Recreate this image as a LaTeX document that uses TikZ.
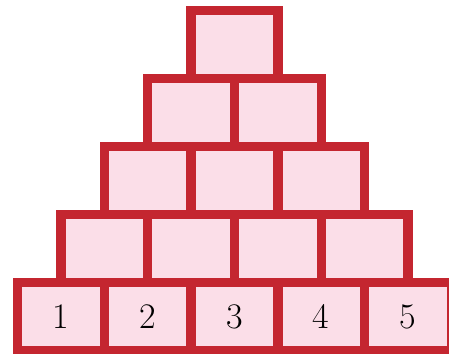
\documentclass[tikz,border=0pt]{standalone}
\usetikzlibrary{positioning}

\definecolor{brickred}{RGB}{196,38,48}
\definecolor{brickpink}{RGB}{251,222,232}

\tikzset{
	brick/.style={draw=brickred, fill=brickpink, line width=9.4pt, inner sep=0pt, outer sep=0pt,
		minimum width=86.8pt, minimum height=68pt, font=\fontsize{36}{40}\selectfont},
}

\begin{document}
\begin{tikzpicture}[x=1pt, y=1pt, baseline=(current bounding box.center)]
	\useasboundingbox (0,0) rectangle (449,353);
	% 1. 最下面一层，带编号 1--5
	\node [brick] (b1) at (60.8,36.3) {1};
	\node [brick, right=0pt of b1] (b2) {2};
	\node [brick, right=0pt of b2] (b3) {3};
	\node [brick, right=0pt of b3] (b4) {4};
	\node [brick, right=0pt of b4] (b5) {5};
	
	% 2. 第二层：放在下面两块的接缝上
	\node [brick, anchor=south] (c1) at (b1.north east) {};
	\node [brick, right=0pt of c1] (c2) {};
	\node [brick, right=0pt of c2] (c3) {};
	\node [brick, right=0pt of c3] (c4) {};
	
	% 3. 第三层
	\node [brick, anchor=south] (d1) at (c1.north east) {};
	\node [brick, right=0pt of d1] (d2) {};
	\node [brick, right=0pt of d2] (d3) {};
	
	% 4. 第四层
	\node [brick, anchor=south] (e1) at (d1.north east) {};
	\node [brick, right=0pt of e1] (e2) {};
	
	% 5. 顶上一块
	\node [brick, anchor=south] (f1) at (e1.north east) {};
\end{tikzpicture}
\end{document}
